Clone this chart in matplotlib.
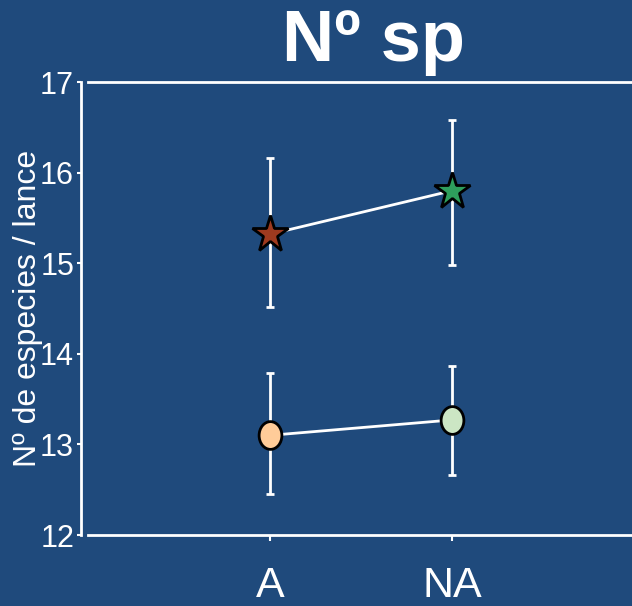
import numpy as np
import matplotlib
matplotlib.use('Agg')
import matplotlib.pyplot as plt
from matplotlib.path import Path
from matplotlib.transforms import Affine2D

plt.rcParams['font.family'] = ['Liberation Sans', 'DejaVu Sans']

groups = ['A', 'NA']
# upper series (stars)
star_mean = [15.32, 15.80]
star_lo = [14.52, 14.98]
star_hi = [16.16, 16.58]
star_colors = ['#9e3a1f', '#2e9e5c']
# lower series (circles)
circ_mean = [13.10, 13.27]
circ_lo = [12.45, 12.66]
circ_hi = [13.79, 13.87]
circ_colors = ['#ffcc99', '#cce6c4']

bg = '#1f4a7c'
x = np.arange(1, len(groups) + 1)

fig = plt.figure(figsize=(6.32, 6.06), dpi=100, facecolor=bg)
ax = fig.add_axes([88/632, 71/606, 546/632, 453/606], facecolor=bg)

# ellipse marker like the R output
ellipse = Path.unit_circle().transformed(Affine2D().scale(0.82, 1.0))

def draw_series(mean, lo, hi, colors, marker, ms):
    mean = np.array(mean)
    err = [mean - np.array(lo), np.array(hi) - mean]
    ax.errorbar(x, mean, yerr=err, fmt='none', ecolor='white', elinewidth=2,
                capsize=3, capthick=2, zorder=2)
    ax.plot(x, mean, color='white', lw=2, zorder=3)
    for xi, yi, c in zip(x, mean, colors):
        ax.plot(xi, yi, marker=marker, ms=ms, mfc=c, mec='black', mew=2,
                linestyle='none', zorder=4)

draw_series(star_mean, star_lo, star_hi, star_colors, '*', 28)
draw_series(circ_mean, circ_lo, circ_hi, circ_colors, ellipse, 20)

ax.set_xlim(0, 3)
ax.set_ylim(12, 17)
ax.set_xticks(x)
ax.set_xticklabels(groups)
ax.set_yticks(range(12, 18))

for s in ['top', 'bottom', 'left']:
    ax.spines[s].set_color('white')
    ax.spines[s].set_linewidth(2)
ax.spines['right'].set_visible(False)
ax.spines['left'].set_position(('outward', 5))

ax.tick_params(axis='y', colors='white', direction='out', length=3, width=1.5,
               labelsize=22, pad=2)
ax.tick_params(axis='x', colors='white', direction='out', length=4, width=1.5,
               labelsize=31, pad=18)

ax.set_ylabel('Nº de especies / lance', color='white', fontsize=23)
ax.yaxis.set_label_coords(-0.082, 0.5)

fig.text(374/632, 1 - 42/606, 'Nº sp', color='white', fontsize=52, fontweight='bold',
         ha='center', va='center')

fig.savefig('out.png', dpi=100, facecolor=bg)
